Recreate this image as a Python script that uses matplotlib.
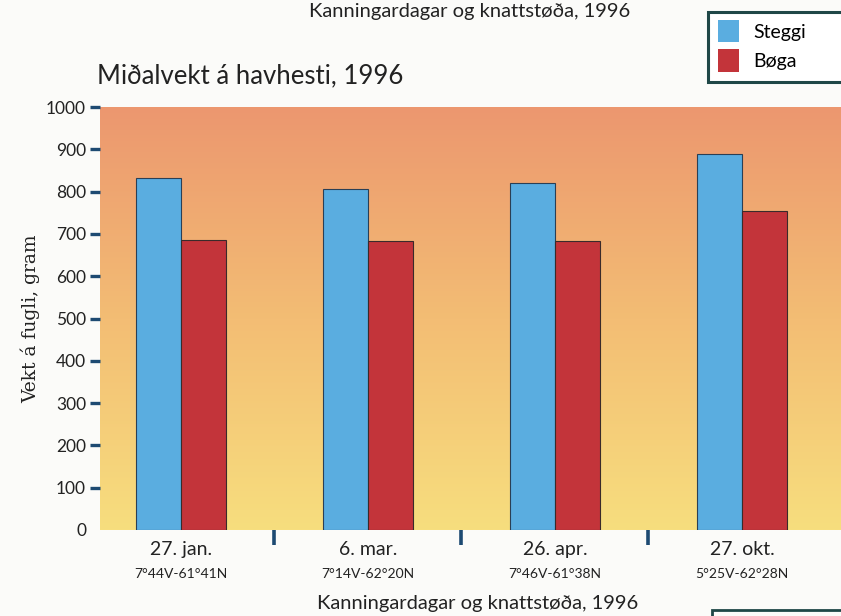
import numpy as np
import matplotlib.pyplot as plt
from matplotlib.colors import LinearSegmentedColormap
from matplotlib.patches import Patch, Rectangle

# data
dates = ['27. jan.', '6. mar.', '26. apr.', '27. okt.']
positions = ['7°44V-61°41N', '7°14V-62°20N', '7°46V-61°38N', '5°25V-62°28N']
steggi = [832, 806, 820, 889]
boga = [686, 683, 683, 754]
yticks = [0, 100, 200, 300, 400, 500, 600, 700, 800, 900, 1000]

blue = '#5aade0'
red = '#c3343a'
navy = '#1d4a72'
frame = '#1f4747'
sans = 'Lato'

fig = plt.figure(figsize=(8.41, 6.16), dpi=100)
fig.patch.set_facecolor('#fbfbf9')
ax = fig.add_axes([100 / 841, 1 - 530 / 616, 741 / 841, 423 / 616])

x = np.arange(len(dates))
w = 0.24
xlim = (-0.433, 3.53)

# background gradient orange -> yellow
cmap = LinearSegmentedColormap.from_list('bg', ['#f7de7e', '#f3bd74', '#ec976f'])
grad = np.linspace(0, 1, 256).reshape(-1, 1)
ax.imshow(grad, cmap=cmap, origin='lower', aspect='auto',
          extent=(xlim[0], xlim[1], 0, 1000), zorder=0)

ax.bar(x - w / 2, steggi, w, color=blue, edgecolor='#2a3f55', linewidth=0.8, zorder=2)
ax.bar(x + w / 2, boga, w, color=red, edgecolor='#3a2a2a', linewidth=0.8, zorder=2)

ax.set_xlim(*xlim)
ax.set_ylim(0, 1000)
for s in ax.spines.values():
    s.set_visible(False)

ax.set_yticks(yticks)
ax.tick_params(axis='y', length=7, width=2.4, color=navy, pad=3,
               labelsize=12.5, labelcolor='#222222')
for lab in ax.get_yticklabels():
    lab.set_fontfamily(sans)
ax.yaxis.get_major_ticks()[0].tick1line.set_visible(False)

# separators between the dates
ax.set_xticks([0.5, 1.5, 2.5])
ax.set_xticklabels([])
ax.tick_params(axis='x', length=11, width=2.6, color=navy, direction='out', pad=0)

for i in range(len(dates)):
    ax.annotate(dates[i], xy=(i, 0), xycoords=('data', 'axes fraction'),
                xytext=(0, -8), textcoords='offset points', ha='center', va='top',
                fontsize=14, family=sans, color='#222222')
    ax.annotate(positions[i], xy=(i, 0), xycoords=('data', 'axes fraction'),
                xytext=(0, -27), textcoords='offset points', ha='center', va='top',
                fontsize=10, family=sans, color='#222222')

ax.set_ylabel('Vekt á fugli, gram', family='DejaVu Serif', fontsize=13.5,
              color='#222222', labelpad=4)

fig.text(97 / 841, 1 - 76 / 616, 'Miðalvekt á havhesti, 1996', family=sans,
         fontsize=18.5, va='center', ha='left', color='#222222')
fig.text(470 / 841, 1 - 11 / 616, 'Kanningardagar og knattstøða, 1996', family=sans,
         fontsize=14.5, va='center', ha='center', color='#222222')
fig.text(478 / 841, 1 - 604 / 616, 'Kanningardagar og knattstøða, 1996', family=sans,
         fontsize=14.5, va='center', ha='center', color='#222222')

# legend, its box runs past the right edge of the scan
handles = [Patch(facecolor=blue, label='Steggi'), Patch(facecolor=red, label='Bøga')]
fig.patches.append(Rectangle((708 / 841, 1 - 82 / 616), 150 / 841, 70 / 616,
                             transform=fig.transFigure, facecolor='white',
                             edgecolor=frame, linewidth=2.2, zorder=1))
fig.legend(handles=handles, loc='upper left', bbox_to_anchor=(714 / 841, 1 - 16 / 616),
           frameon=False, prop={'family': sans, 'size': 14},
           handlelength=1.1, handleheight=1.4, handletextpad=0.7,
           borderpad=0.2, labelspacing=0.35, borderaxespad=0)

# edge of a second box cut off at the bottom of the scan
fig.patches.append(Rectangle((712 / 841, -0.01), 0.2, 12 / 616, transform=fig.transFigure,
                             fill=False, edgecolor=frame, linewidth=2))

fig.savefig('out.png', dpi=100)
